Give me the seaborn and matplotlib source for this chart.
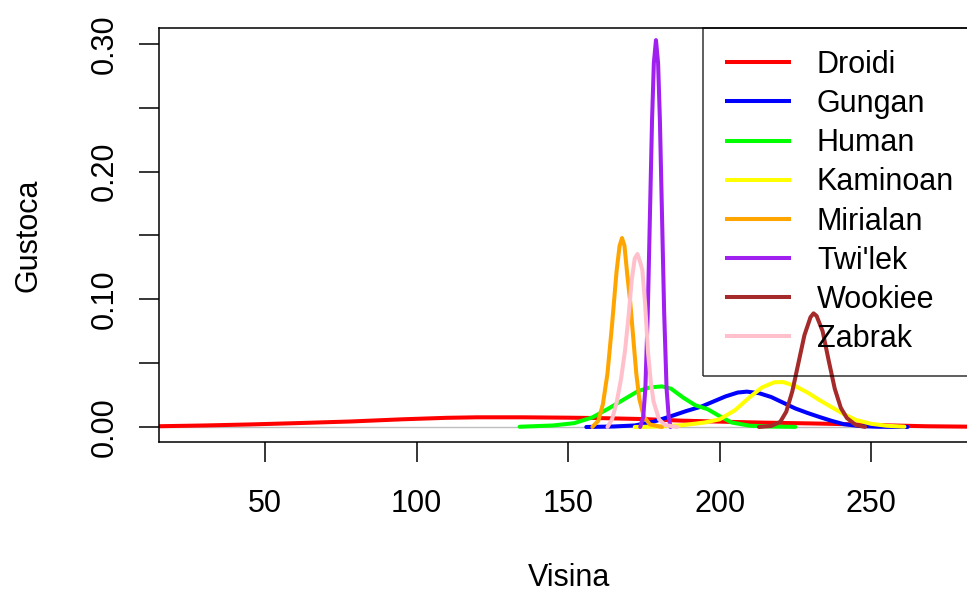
import matplotlib
matplotlib.use("Agg")
import matplotlib.pyplot as plt
import seaborn as sns
import pandas as pd

# ---- data (density estimates per species) ----
species = ["Droidi", "Gungan", "Human", "Kaminoan", "Mirialan", "Twi'lek", "Wookiee", "Zabrak"]
colors = ["#FF0000", "#0000FF", "#00FF00", "#FFFF00", "#FFA500", "#A020F0", "#A52A2A", "#FFC0CB"]

droidi_x = [15, 30, 45, 60, 78, 95, 110, 120, 135, 150, 160, 175, 187, 200, 215, 230, 242, 255, 268, 285]
droidi_y = [0.0006, 0.0012, 0.0020, 0.0030, 0.0043, 0.0060, 0.0072, 0.0076, 0.0076, 0.0073,
            0.0070, 0.0062, 0.0050, 0.0042, 0.0034, 0.0028, 0.0022, 0.0013, 0.0006, 0.0002]

gungan_x = [156, 165, 172, 178, 184, 189, 194, 198, 202, 206, 209, 213, 217, 221, 225, 229, 233, 237, 241, 246, 252, 262]
gungan_y = [0.0000, 0.0004, 0.0012, 0.0040, 0.0085, 0.0125, 0.0160, 0.0200, 0.0240, 0.0270, 0.0277,
            0.0265, 0.0235, 0.0190, 0.0145, 0.0110, 0.0078, 0.0048, 0.0022, 0.0008, 0.0002, 0.0000]

human_x = [134, 145, 152, 158, 163, 168, 173, 177, 181, 184, 188, 192, 196, 200, 204, 210, 218, 225]
human_y = [0.0002, 0.0012, 0.0030, 0.0075, 0.0140, 0.0210, 0.0280, 0.0310, 0.0318, 0.0300,
           0.0230, 0.0170, 0.0140, 0.0085, 0.0035, 0.0010, 0.0003, 0.0001]

kaminoan_x = [172, 180, 188, 195, 200, 205, 210, 214, 218, 221, 225, 229, 233, 237, 241, 245, 250, 255, 261]
kaminoan_y = [0.0000, 0.0004, 0.0015, 0.0035, 0.0060, 0.0130, 0.0235, 0.0310, 0.0350, 0.0352,
              0.0320, 0.0270, 0.0210, 0.0155, 0.0100, 0.0055, 0.0025, 0.0010, 0.0002]

mirialan_x = [158, 160, 161.5, 163, 164.5, 166, 167, 167.8, 168.6, 169.5, 170.5, 171.5, 172.5, 173.5, 175, 177, 181]
mirialan_y = [0.0000, 0.0050, 0.0180, 0.0420, 0.0800, 0.1220, 0.1420, 0.1480, 0.1420, 0.1200,
              0.0980, 0.0700, 0.0420, 0.0220, 0.0080, 0.0020, 0.0000]

twilek_x = [173.8, 174.8, 175.5, 176.3, 177, 177.7, 178.3, 179, 179.7, 180.3, 181, 181.7, 182.5, 183.2, 183.8]
twilek_y = [0.0000, 0.0080, 0.0300, 0.0900, 0.1650, 0.2400, 0.2850, 0.3030, 0.2850, 0.2400,
            0.1650, 0.0900, 0.0300, 0.0080, 0.0000]

wookiee_x = [213, 217, 220, 222, 224, 226, 228, 230, 231, 232, 234, 236, 238, 240, 242, 245, 248]
wookiee_y = [0.0000, 0.0008, 0.0040, 0.0120, 0.0280, 0.0500, 0.0720, 0.0860, 0.0890, 0.0870,
             0.0750, 0.0520, 0.0300, 0.0150, 0.0070, 0.0015, 0.0001]

zabrak_x = [163, 164.5, 166, 167.5, 168.8, 170, 171, 172, 172.9, 173.8, 174.5, 175.4, 176.4, 177.3, 178.2, 180, 182, 186]
zabrak_y = [0.0000, 0.0060, 0.0190, 0.0380, 0.0600, 0.0880, 0.1150, 0.1320, 0.1355, 0.1290,
            0.1230, 0.0970, 0.0580, 0.0350, 0.0200, 0.0060, 0.0015, 0.0000]

x_ticks = [50, 100, 150, 200, 250]
y_ticks = [0.00, 0.05, 0.10, 0.15, 0.20, 0.25, 0.30]
y_tick_labels = ["0.00", "", "0.10", "", "0.20", "", "0.30"]

series = {
    "Droidi": (droidi_x, droidi_y),
    "Gungan": (gungan_x, gungan_y),
    "Human": (human_x, human_y),
    "Kaminoan": (kaminoan_x, kaminoan_y),
    "Mirialan": (mirialan_x, mirialan_y),
    "Twi'lek": (twilek_x, twilek_y),
    "Wookiee": (wookiee_x, wookiee_y),
    "Zabrak": (zabrak_x, zabrak_y),
}
rows = []
for name in species:
    xs, ys = series[name]
    for xv, yv in zip(xs, ys):
        rows.append({"species": name, "Visina": xv, "Gustoca": yv})
df = pd.DataFrame(rows)

# ---- figure ----
sns.set_style("white")
plt.rcParams["font.family"] = ["Liberation Sans", "DejaVu Sans"]
plt.rcParams["text.color"] = "black"
plt.rcParams["axes.labelcolor"] = "black"
FS = 22

W, H = 967, 590
fig = plt.figure(figsize=(W / 100, H / 100), dpi=100)
L, R, T, B = 159, 979, 28, 442
ax = fig.add_axes([L / W, 1 - B / H, (R - L) / W, (B - T) / H])

ax.axhline(0, color="#BEBEBE", lw=1.0, zorder=1)
for name, col in zip(species, colors):
    sns.lineplot(data=df[df["species"] == name], x="Visina", y="Gustoca", color=col,
                 linewidth=2.9, label=name, ax=ax, sort=False, estimator=None,
                 solid_capstyle="round", zorder=2)

ax.set_xlim(15.0, 285.6)
ax.set_ylim(-0.01175, 0.3125)

for s in ["top", "left", "bottom", "right"]:
    ax.spines[s].set_visible(True)
    ax.spines[s].set_color("black")
    ax.spines[s].set_linewidth(1.1)

ax.set_xticks(x_ticks, [str(v) for v in x_ticks])
ax.set_yticks(y_ticks, y_tick_labels)
ax.tick_params(axis="both", which="major", direction="out", length=14.4, width=1.1,
               color="black", labelsize=FS, labelcolor="black",
               bottom=True, left=True, top=False, right=False)
ax.tick_params(axis="x", pad=36.3)
ax.tick_params(axis="y", pad=18.7)
for lab in ax.get_xticklabels():
    lab.set_va("baseline")
for lab in ax.get_yticklabels():
    lab.set_rotation(90)
    lab.set_rotation_mode("anchor")
    lab.set_ha("center")
    lab.set_va("baseline")

ax.set_xlabel("Visina", fontsize=FS, va="baseline", color="black")
ax.xaxis.set_label_coords(0.5, (B - 586) / (B - T))
ax.set_ylabel("Gustoca", fontsize=FS, rotation=90, rotation_mode="anchor",
              ha="center", va="baseline", color="black")
ax.yaxis.set_label_coords((36 - L) / (R - L), 0.5)

leg = ax.legend(loc="upper left", bbox_to_anchor=(703 / W, 1 - T / H),
                bbox_transform=fig.transFigure, borderaxespad=0, fontsize=FS,
                frameon=True, fancybox=False, shadow=False, borderpad=0.72,
                handlelength=2.16, handletextpad=0.85, labelspacing=0.30)
frame = leg.get_frame()
frame.set_edgecolor("black")
frame.set_linewidth(1.1)
frame.set_facecolor("none")
for t in leg.get_texts():
    t.set_color("black")
for h in leg.get_lines():
    h.set_linewidth(2.9)
    h.set_solid_capstyle("butt")

fig.savefig("out.png", dpi=100)
